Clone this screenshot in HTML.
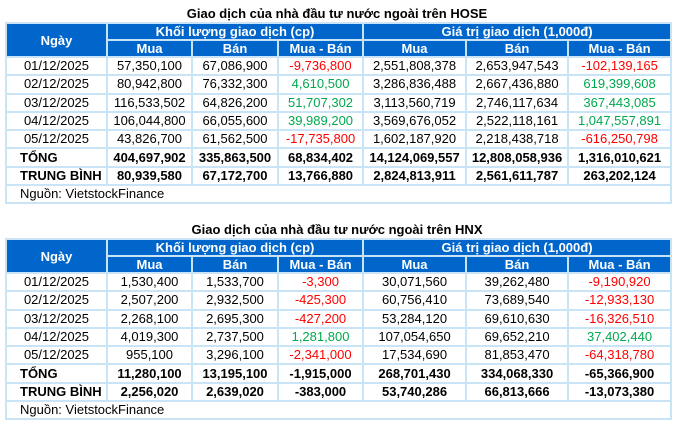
<!DOCTYPE html>
<html><head><meta charset="utf-8"><style>
body{margin:0;width:674px;height:424px;background:#fff;font-family:"Liberation Sans",Arial,sans-serif;position:relative;overflow:hidden}
.t{position:absolute;font-weight:bold;font-size:13px;color:#000;left:0;width:674px;text-align:center}
table{position:absolute;left:5px;border-collapse:collapse;table-layout:fixed;width:665px;font-size:13px}
td{border:2px solid #c9e4f6;text-align:center;padding:0;height:16.3px;line-height:16px;white-space:nowrap;overflow:hidden}
.h td{background:#0066cc;color:#fff;font-weight:bold;font-size:13px;height:15px;line-height:15px}
.r{color:#ff0000}.g{color:#00a84f}
.b td{font-weight:bold}
td.l{text-align:left;padding-left:13px}
</style></head><body>
<div class="t" style="top:6px">Giao dịch của nhà đầu tư nước ngoài trên HOSE</div>
<table style="top:22px">
<colgroup><col style="width:101px"><col style="width:85px"><col style="width:86px"><col style="width:85px"><col style="width:103px"><col style="width:102px"><col style="width:103px"></colgroup>
<tr class="h"><td rowspan="2">Ngày</td><td colspan="3">Khối lượng giao dịch (cp)</td><td colspan="3">Giá trị giao dịch (1,000đ)</td></tr>
<tr class="h"><td>Mua</td><td>Bán</td><td>Mua - Bán</td><td>Mua</td><td>Bán</td><td>Mua - Bán</td></tr>
<tr><td>01/12/2025</td><td>57,350,100</td><td>67,086,900</td><td class="r">-9,736,800</td><td>2,551,808,378</td><td>2,653,947,543</td><td class="r">-102,139,165</td></tr>
<tr><td>02/12/2025</td><td>80,942,800</td><td>76,332,300</td><td class="g">4,610,500</td><td>3,286,836,488</td><td>2,667,436,880</td><td class="g">619,399,608</td></tr>
<tr><td>03/12/2025</td><td>116,533,502</td><td>64,826,200</td><td class="g">51,707,302</td><td>3,113,560,719</td><td>2,746,117,634</td><td class="g">367,443,085</td></tr>
<tr><td>04/12/2025</td><td>106,044,800</td><td>66,055,600</td><td class="g">39,989,200</td><td>3,569,676,052</td><td>2,522,118,161</td><td class="g">1,047,557,891</td></tr>
<tr><td>05/12/2025</td><td>43,826,700</td><td>61,562,500</td><td class="r">-17,735,800</td><td>1,602,187,920</td><td>2,218,438,718</td><td class="r">-616,250,798</td></tr>
<tr class="b"><td class="l">TỔNG</td><td>404,697,902</td><td>335,863,500</td><td>68,834,402</td><td>14,124,069,557</td><td>12,808,058,936</td><td>1,316,010,621</td></tr>
<tr class="b"><td class="l">TRUNG BÌNH</td><td>80,939,580</td><td>67,172,700</td><td>13,766,880</td><td>2,824,813,911</td><td>2,561,611,787</td><td>263,202,124</td></tr>
<tr><td colspan="7" class="l">Nguồn: VietstockFinance</td></tr>
</table>
<div class="t" style="top:222px">Giao dịch của nhà đầu tư nước ngoài trên HNX</div>
<table style="top:238px">
<colgroup><col style="width:101px"><col style="width:85px"><col style="width:86px"><col style="width:85px"><col style="width:103px"><col style="width:102px"><col style="width:103px"></colgroup>
<tr class="h"><td rowspan="2">Ngày</td><td colspan="3">Khối lượng giao dịch (cp)</td><td colspan="3">Giá trị giao dịch (1,000đ)</td></tr>
<tr class="h"><td>Mua</td><td>Bán</td><td>Mua - Bán</td><td>Mua</td><td>Bán</td><td>Mua - Bán</td></tr>
<tr><td>01/12/2025</td><td>1,530,400</td><td>1,533,700</td><td class="r">-3,300</td><td>30,071,560</td><td>39,262,480</td><td class="r">-9,190,920</td></tr>
<tr><td>02/12/2025</td><td>2,507,200</td><td>2,932,500</td><td class="r">-425,300</td><td>60,756,410</td><td>73,689,540</td><td class="r">-12,933,130</td></tr>
<tr><td>03/12/2025</td><td>2,268,100</td><td>2,695,300</td><td class="r">-427,200</td><td>53,284,120</td><td>69,610,630</td><td class="r">-16,326,510</td></tr>
<tr><td>04/12/2025</td><td>4,019,300</td><td>2,737,500</td><td class="g">1,281,800</td><td>107,054,650</td><td>69,652,210</td><td class="g">37,402,440</td></tr>
<tr><td>05/12/2025</td><td>955,100</td><td>3,296,100</td><td class="r">-2,341,000</td><td>17,534,690</td><td>81,853,470</td><td class="r">-64,318,780</td></tr>
<tr class="b"><td class="l">TỔNG</td><td>11,280,100</td><td>13,195,100</td><td>-1,915,000</td><td>268,701,430</td><td>334,068,330</td><td>-65,366,900</td></tr>
<tr class="b"><td class="l">TRUNG BÌNH</td><td>2,256,020</td><td>2,639,020</td><td>-383,000</td><td>53,740,286</td><td>66,813,666</td><td>-13,073,380</td></tr>
<tr><td colspan="7" class="l">Nguồn: VietstockFinance</td></tr>
</table>
</body></html>
